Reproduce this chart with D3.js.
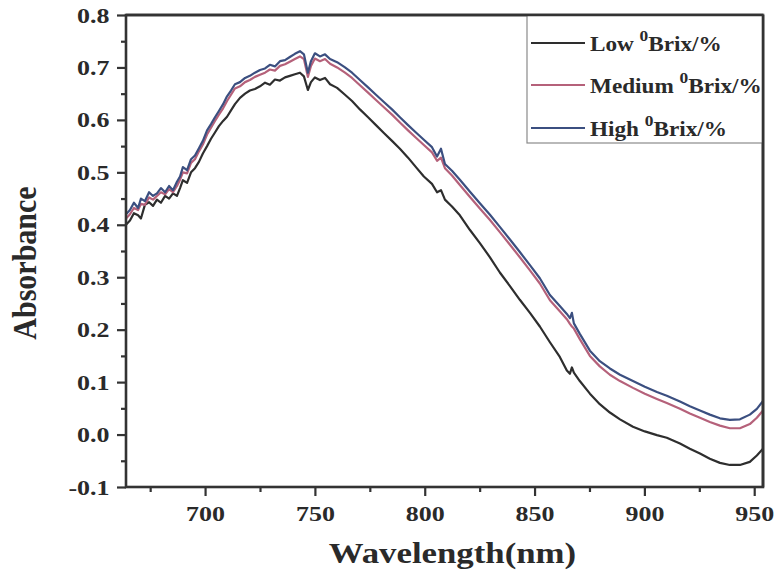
<!DOCTYPE html>
<html>
<head>
<meta charset="utf-8">
<script src="https://cdn.jsdelivr.net/npm/d3@7"></script>
<style>
  html, body { margin: 0; padding: 0; background: #fff; }
  svg { display: block; }
  text { font-family: "Liberation Serif", "Times New Roman", serif; font-weight: bold; fill: #2a2a2a; }
</style>
</head>
<body>
<script>
// ---- data ----
const wavelength = [664.0,665.8,667.6,669.5,670.8,672.6,674.5,676.3,678.1,679.9,681.8,683.6,685.4,687.2,688.6,689.9,691.8,693.6,695.4,697.2,699.0,700.9,702.7,704.5,706.3,708.2,710.0,711.8,713.6,715.9,718.2,720.4,722.7,725.0,727.3,729.5,731.8,734.1,736.4,738.6,740.9,743.2,745.0,746.8,748.2,750.0,752.3,754.6,756.9,760.1,763.7,766.9,770.5,774.2,777.8,781.4,785.1,788.7,792.4,796.0,799.6,803.3,805.6,807.4,809.2,812.4,816.0,820.6,825.1,829.7,834.2,838.8,843.3,847.9,852.4,857.0,861.5,864.7,866.1,867.0,867.9,870.6,875.2,879.7,884.3,888.9,894.8,900.2,905.7,910.2,916.2,920.7,925.3,929.8,934.4,938.9,943.5,948.0,951.2,954.0];
const lowBrix = [0.400,0.408,0.422,0.418,0.412,0.438,0.443,0.436,0.448,0.442,0.455,0.450,0.460,0.455,0.470,0.485,0.480,0.500,0.508,0.520,0.536,0.550,0.564,0.576,0.588,0.598,0.606,0.618,0.630,0.642,0.650,0.656,0.659,0.664,0.671,0.667,0.677,0.675,0.681,0.684,0.687,0.690,0.683,0.657,0.672,0.681,0.676,0.680,0.668,0.661,0.648,0.636,0.620,0.605,0.590,0.575,0.560,0.545,0.528,0.510,0.492,0.478,0.462,0.466,0.448,0.435,0.418,0.390,0.365,0.338,0.309,0.283,0.257,0.232,0.206,0.176,0.148,0.122,0.116,0.128,0.118,0.102,0.078,0.058,0.042,0.029,0.015,0.006,-0.001,-0.006,-0.017,-0.027,-0.036,-0.046,-0.054,-0.058,-0.058,-0.052,-0.040,-0.027];
const mediumBrix = [0.412,0.420,0.432,0.428,0.440,0.438,0.452,0.448,0.455,0.462,0.458,0.468,0.462,0.474,0.486,0.500,0.498,0.518,0.525,0.540,0.553,0.572,0.585,0.598,0.610,0.622,0.636,0.648,0.660,0.664,0.672,0.676,0.682,0.686,0.690,0.696,0.694,0.703,0.706,0.711,0.716,0.721,0.716,0.682,0.703,0.717,0.712,0.716,0.707,0.700,0.690,0.680,0.666,0.652,0.638,0.624,0.610,0.595,0.580,0.566,0.552,0.538,0.522,0.528,0.508,0.494,0.476,0.453,0.431,0.409,0.386,0.362,0.338,0.313,0.288,0.256,0.235,0.220,0.211,0.206,0.202,0.182,0.150,0.130,0.114,0.102,0.089,0.078,0.068,0.060,0.049,0.040,0.032,0.024,0.017,0.012,0.012,0.020,0.032,0.046];
const highBrix = [0.420,0.428,0.442,0.432,0.450,0.445,0.462,0.455,0.460,0.470,0.462,0.474,0.466,0.482,0.492,0.510,0.504,0.525,0.532,0.546,0.560,0.580,0.592,0.605,0.617,0.630,0.645,0.656,0.668,0.672,0.680,0.684,0.690,0.695,0.698,0.705,0.702,0.712,0.714,0.720,0.726,0.731,0.725,0.690,0.712,0.727,0.721,0.725,0.716,0.710,0.700,0.690,0.676,0.662,0.648,0.634,0.620,0.605,0.590,0.576,0.562,0.548,0.530,0.545,0.516,0.503,0.486,0.463,0.441,0.419,0.396,0.372,0.348,0.323,0.298,0.266,0.245,0.230,0.222,0.232,0.212,0.192,0.160,0.140,0.126,0.114,0.102,0.091,0.081,0.074,0.063,0.054,0.046,0.038,0.031,0.028,0.029,0.038,0.049,0.064];
const seriesNames = ["Low", "Medium", "High"];
const seriesColors = ["#2e2e2e", "#b5617a", "#3b4f80"];
const xTicks = [700, 750, 800, 850, 900, 950];
const xMinorTicks = [675, 725, 775, 825, 875, 925];
const yTicks = [-0.1, 0.0, 0.1, 0.2, 0.3, 0.4, 0.5, 0.6, 0.7, 0.8];
const yMinorTicks = [-0.05, 0.05, 0.15, 0.25, 0.35, 0.45, 0.55, 0.65, 0.75];
const xDomain = [664, 954];
const yDomain = [-0.1, 0.8];

// ---- chart ----
const W = 776, H = 571;
const m = { left: 126, right: 763, top: 15, bottom: 487 };
const SX = 1.18; // horizontal stretch of lettering seen in the reference
const svg = d3.select("body").append("svg").attr("width", W).attr("height", H);

const x = d3.scaleLinear().domain(xDomain).range([m.left, m.right]);
const y = d3.scaleLinear().domain(yDomain).range([m.bottom, m.top]);

const seriesData = [lowBrix, mediumBrix, highBrix];
const line = d3.line().x(d => x(d[0])).y(d => y(d[1]));

svg.append("defs").append("clipPath").attr("id", "clip")
  .append("rect").attr("x", m.left).attr("y", m.top).attr("width", m.right - m.left).attr("height", m.bottom - m.top);

const lines = svg.append("g").attr("clip-path", "url(#clip)");
seriesData.forEach((vals, i) => {
  lines.append("path")
    .datum(wavelength.map((w, k) => [w, vals[k]]))
    .attr("fill", "none")
    .attr("stroke", seriesColors[i])
    .attr("stroke-width", 2.2)
    .attr("stroke-linejoin", "round")
    .attr("d", line);
});

// axes
const axisColor = "#333";
const fmt = d => d.toFixed(1);
const yAxis = svg.append("g").attr("transform", `translate(${m.left},0)`)
  .call(d3.axisLeft(y).tickValues(yTicks).tickFormat(fmt).tickSize(9).tickPadding(5));
const yMinor = svg.append("g").attr("transform", `translate(${m.left},0)`)
  .call(d3.axisLeft(y).tickValues(yMinorTicks).tickFormat("").tickSize(5));
const xAxis = svg.append("g").attr("transform", `translate(0,${m.bottom})`)
  .call(d3.axisBottom(x).tickValues(xTicks).tickFormat(d3.format("d")).tickSize(9).tickPadding(9));
const xMinor = svg.append("g").attr("transform", `translate(0,${m.bottom})`)
  .call(d3.axisBottom(x).tickValues(xMinorTicks).tickFormat("").tickSize(5));

[yAxis, yMinor, xAxis, xMinor].forEach(g => {
  g.select(".domain").remove();
  g.selectAll(".tick line").attr("stroke", axisColor).attr("stroke-width", 2.2);
  g.selectAll(".tick text").attr("fill", "#2a2a2a")
    .style("font-family", '"Liberation Serif", "Times New Roman", serif')
    .style("font-weight", "bold").style("font-size", "22px")
    .attr("transform", `scale(${SX},1)`);
});

// frame
svg.append("rect").attr("x", m.left).attr("y", m.top)
  .attr("width", m.right - m.left).attr("height", m.bottom - m.top)
  .attr("fill", "none").attr("stroke", axisColor).attr("stroke-width", 2.6);

// axis titles
svg.append("text").attr("transform", `translate(${(m.left + m.right) / 2 + 8},563) scale(1.2,1)`)
  .attr("text-anchor", "middle").style("font-size", "29px").text("Wavelength(nm)");
svg.append("text").attr("transform", `translate(36,${(m.top + m.bottom) / 2 + 12}) scale(1.15,1) rotate(-90)`)
  .attr("text-anchor", "middle").style("font-size", "30px").text("Absorbance");

// legend
const lg = svg.append("g");
lg.append("rect").attr("x", 527).attr("y", m.top).attr("width", m.right - 527).attr("height", 128)
  .attr("fill", "#fff").attr("stroke", "#8a8a8a").attr("stroke-width", 1.2);
const legY = [43, 85, 128];
seriesNames.forEach((name, i) => {
  lg.append("line").attr("x1", 531).attr("x2", 585).attr("y1", legY[i]).attr("y2", legY[i])
    .attr("stroke", seriesColors[i]).attr("stroke-width", 2.2);
  const t = lg.append("text").attr("transform", `translate(590,${legY[i] + 8}) scale(1.16,1)`)
    .style("font-size", "20px");
  t.append("tspan").text(name + " ");
  t.append("tspan").attr("dy", -10).style("font-size", "15px").text("0");
  t.append("tspan").attr("dy", 10).text("Brix/%");
});
// frame edges over legend
svg.append("line").attr("x1", m.left).attr("x2", m.right).attr("y1", m.top).attr("y2", m.top)
  .attr("stroke", axisColor).attr("stroke-width", 2.6);
svg.append("line").attr("x1", m.right).attr("x2", m.right).attr("y1", m.top).attr("y2", m.bottom)
  .attr("stroke", axisColor).attr("stroke-width", 2.6);
</script>
</body>
</html>
